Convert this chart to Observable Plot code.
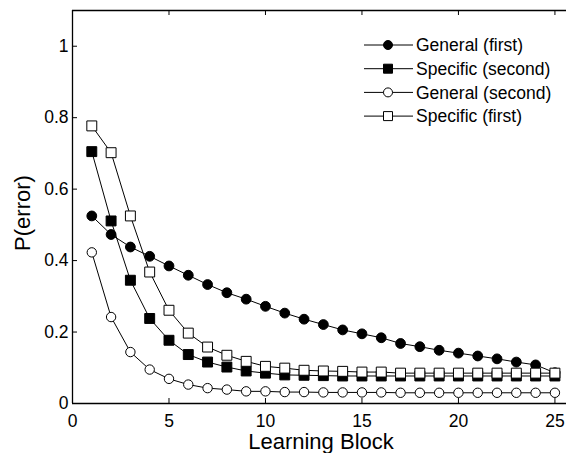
<!DOCTYPE html>
<html>
<head>
<meta charset="utf-8">
<script src="https://cdn.jsdelivr.net/npm/d3@7"></script>
<script src="https://cdn.jsdelivr.net/npm/@observablehq/plot@0.6"></script>
<style>
  html, body { margin: 0; padding: 0; background: #fff; }
  #chart svg { display: block; }
</style>
</head>
<body>
<div id="chart"></div>
<script>
const blocks = [1,2,3,4,5,6,7,8,9,10,11,12,13,14,15,16,17,18,19,20,21,22,23,24,25];
const seriesNames = ["General (first)", "Specific (second)", "General (second)", "Specific (first)"];
const generalFirst   = [0.525,0.473,0.438,0.412,0.385,0.359,0.333,0.310,0.292,0.272,0.253,0.236,0.221,0.206,0.195,0.184,0.168,0.159,0.149,0.141,0.133,0.125,0.116,0.108,0.086];
const specificSecond = [0.705,0.511,0.345,0.238,0.177,0.137,0.116,0.102,0.091,0.085,0.080,0.079,0.078,0.077,0.077,0.077,0.077,0.077,0.077,0.077,0.077,0.077,0.077,0.077,0.077];
const generalSecond  = [0.423,0.242,0.144,0.095,0.069,0.053,0.043,0.039,0.034,0.034,0.032,0.032,0.031,0.031,0.031,0.031,0.030,0.030,0.030,0.030,0.030,0.030,0.030,0.030,0.030];
const specificFirst  = [0.777,0.702,0.525,0.368,0.261,0.197,0.158,0.135,0.118,0.104,0.099,0.093,0.091,0.090,0.088,0.088,0.085,0.085,0.085,0.085,0.085,0.085,0.085,0.085,0.085];
const xTicks = [0,5,10,15,20,25];
const xTickLabels = ["0","5","10","15","20","25"];
const yTicks = [0,0.2,0.4,0.6,0.8,1];
const yTickLabels = ["0","0.2","0.4","0.6","0.8","1"];
const xLabel = "Learning Block";
const yLabel = "P(error)";
const xDomain = [0, 25.6];
const yDomain = [0, 1.1];

const seriesValues = [generalFirst, specificSecond, generalSecond, specificFirst];
const symbols = ["circle", "square", "circle", "square"];
const fills = ["black", "black", "white", "white"];
const radii = [4.9, 5.6, 4.7, 5.6];

const table = seriesNames.map((name, i) => blocks.map((b, j) => ({series: name, block: b, p: seriesValues[i][j]})));

const font = "'Liberation Sans', Arial, Helvetica, sans-serif";
const W = 566, H = 453, mL = 72, mR = 0, mT = 10, mB = 50, tick = 5;
const frameW = W - mL - mR, frameH = H - mT - mB;

const marks = [];
// spines
marks.push(Plot.ruleY([yDomain[0]], {stroke: "black", strokeWidth: 1.3}));
marks.push(Plot.ruleY([yDomain[1]], {stroke: "black", strokeWidth: 1.3}));
marks.push(Plot.ruleX([xDomain[0]], {stroke: "black", strokeWidth: 1.3}));
// inward ticks
marks.push(Plot.tickX(xTicks.slice(1), {x: (d) => d, insetTop: frameH - tick, stroke: "black"}));
marks.push(Plot.tickX(xTicks.slice(1), {x: (d) => d, insetBottom: frameH - tick, stroke: "black"}));
marks.push(Plot.tickY(yTicks.slice(1), {y: (d) => d, insetRight: frameW - tick, stroke: "black"}));
// tick labels
marks.push(Plot.axisX({anchor: "bottom", ticks: xTicks, tickSize: 0, tickPadding: 11, tickFormat: (d) => xTickLabels[xTicks.indexOf(d)], label: null}));
marks.push(Plot.axisY({anchor: "left", ticks: yTicks, tickSize: 0, tickPadding: 4, tickFormat: (d) => yTickLabels[yTicks.indexOf(d)], label: null}));
// lines
table.forEach((rows) => marks.push(Plot.line(rows, {x: "block", y: "p", stroke: "black", strokeWidth: 1})));
// markers
table.forEach((rows, i) => marks.push(Plot.dot(rows, {x: "block", y: "p", symbol: symbols[i], r: radii[i], fill: fills[i], stroke: "black", strokeWidth: 1})));

const chart = Plot.plot({
  width: W,
  height: H,
  marginLeft: mL,
  marginRight: mR,
  marginTop: mT,
  marginBottom: mB,
  x: {domain: xDomain},
  y: {domain: yDomain},
  style: {fontFamily: font, fontSize: "17.5px", background: "white", color: "black"},
  marks
});
document.getElementById("chart").appendChild(chart);

// axis titles and legend
const svg = d3.select(chart);
svg.append("text")
  .attr("x", 321).attr("y", 449)
  .attr("text-anchor", "middle")
  .attr("font-family", font).attr("font-size", 22)
  .attr("fill", "black")
  .text(xLabel);
svg.append("text")
  .attr("transform", "translate(30,213) rotate(-90)")
  .attr("text-anchor", "middle")
  .attr("font-family", font).attr("font-size", 22)
  .attr("fill", "black")
  .text(yLabel);

const legend = svg.append("g");
seriesNames.forEach((name, i) => {
  const y = 45 + i * 23.7;
  const g = legend.append("g").attr("transform", `translate(0,${y})`);
  g.append("line").attr("x1", 364).attr("x2", 413).attr("y1", 0).attr("y2", 0)
    .attr("stroke", "black").attr("stroke-width", 1);
  const sym = symbols[i] === "circle" ? d3.symbolCircle : d3.symbolSquare;
  const size = symbols[i] === "circle" ? Math.PI * 4.5 * 4.5 : 9 * 9;
  g.append("path").attr("d", d3.symbol(sym, size)()).attr("transform", "translate(388,0)")
    .attr("fill", fills[i]).attr("stroke", "black").attr("stroke-width", 1);
  g.append("text").attr("x", 416).attr("y", 0).attr("dy", "0.35em")
    .attr("text-anchor", "start")
    .attr("font-family", font).attr("font-size", 17.5).attr("fill", "black")
    .text(name);
});
</script>
</body>
</html>
